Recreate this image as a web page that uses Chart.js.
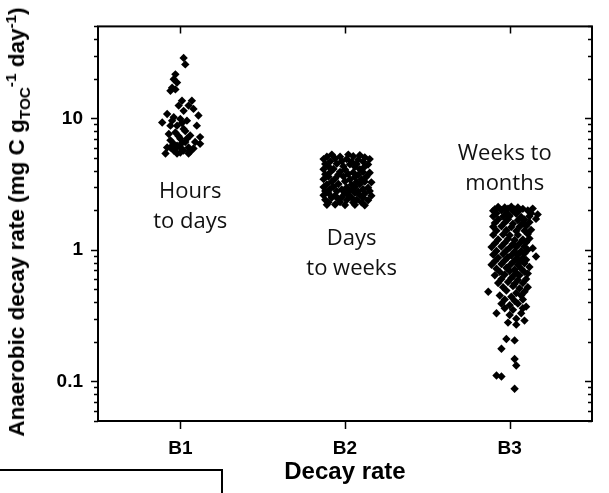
<!DOCTYPE html>
<html>
<head>
<meta charset="utf-8">
<script src="https://cdn.jsdelivr.net/npm/chart.js@4.4.1/dist/chart.umd.min.js"></script>
<style>
  body { margin: 0; background: #fff; }
  #wrap { position: relative; width: 609px; height: 493px; overflow: hidden; background: #fff; }
  #yTitle {
    position: absolute; left: 17px; top: 222px;
    transform: translate(-50%, -50%) rotate(-90deg);
    white-space: nowrap;
    font: bold 22.5px "Liberation Sans", Arial, sans-serif;
    color: #000;
  }
  #yTitle sub, #yTitle sup { font-size: 0.68em; line-height: 0; }
  #cornerBox {
    position: absolute; left: -2px; top: 469px; width: 223px; height: 40px;
    border-top: 2px solid #000; border-right: 2px solid #000;
  }
</style>
</head>
<body>
<div id="wrap">
  <canvas id="chart" width="609" height="493"></canvas>
  <div id="yTitle">Anaerobic decay rate (mg C g<sub>TOC</sub><sup>-1</sup> day<sup>-1</sup>)</div>
  <div id="cornerBox"></div>
</div>
<script>
// Categories and tick labels
const categories = ['B1', 'B2', 'B3'];
const yTickLabels = { 0.1: '0.1', 1: '1', 10: '10' };

// Jittered observations: [x position around the category, decay rate]
const b1Points = [
  [1.02, 28.8], [1.03, 25.7], [0.97, 21.6], [0.96, 19.8], [0.98, 18.7], [0.95, 17.1],
  [0.94, 16.2], [0.97, 16.6], [1.01, 13.6], [1.07, 13.6], [0.99, 12.5], [1.05, 12.5],
  [1.08, 11.8], [1.02, 11.4], [0.92, 10.8], [1.11, 10.5], [0.96, 10.2], [1.00, 9.9],
  [0.89, 9.3], [1.04, 9.6], [0.94, 8.8], [0.98, 8.8], [1.10, 8.8], [1.02, 8.3],
  [0.97, 7.8], [1.06, 7.4], [1.12, 7.2], [1.00, 7.0], [0.94, 6.8], [1.03, 6.6],
  [1.09, 6.6], [1.12, 6.4], [0.98, 6.2], [0.92, 6.0], [1.05, 6.0], [1.08, 5.9],
  [0.96, 5.7], [1.02, 5.7], [0.91, 5.4], [0.98, 5.4], [1.05, 5.4], [0.94, 6.0],
  [1.00, 6.0], [0.99, 7.3], [1.01, 6.5], [0.96, 6.4], [1.04, 7.0], [0.97, 5.9],
  [1.06, 5.6], [1.00, 5.5], [0.93, 7.6], [1.03, 8.0], [1.01, 9.2], [0.95, 9.6]
];

const b2Points = [
  [1.92, 5.3], [2.02, 5.3], [2.09, 5.25],
  [1.89, 5.1], [1.97, 5.1], [2.05, 5.15], [2.12, 5.05],
  [1.87, 4.9], [1.94, 4.95], [2.01, 4.9], [2.08, 4.85], [2.15, 4.9],
  [1.91, 4.7], [1.98, 4.72], [2.04, 4.68], [2.11, 4.7],
  [1.88, 4.5], [1.95, 4.52], [2.03, 4.48], [2.07, 4.5], [2.14, 4.46],
  [1.90, 4.3], [1.99, 4.32], [2.06, 4.28], [2.12, 4.3],
  [1.87, 4.1], [1.93, 4.12], [2.00, 4.08], [2.09, 4.1],
  [1.91, 3.9], [1.97, 3.92], [2.05, 3.88], [2.11, 3.9], [2.15, 3.86],
  [1.88, 3.75], [1.96, 3.74], [2.02, 3.77], [2.08, 3.72],
  [1.90, 3.6], [1.99, 3.62], [2.06, 3.58], [2.13, 3.6],
  [1.87, 3.45], [1.94, 3.47], [2.03, 3.43], [2.10, 3.45],
  [1.92, 3.3], [2.00, 3.32], [2.07, 3.28], [2.12, 3.3], [2.16, 3.26],
  [1.89, 3.15], [1.96, 3.17], [2.04, 3.13], [2.09, 3.15],
  [1.87, 3.0], [1.93, 3.02], [2.01, 2.98], [2.06, 3.0], [2.14, 2.97],
  [1.91, 2.9], [1.98, 2.88], [2.05, 2.91], [2.11, 2.89],
  [1.88, 2.8], [1.95, 2.79], [2.03, 2.81], [2.08, 2.78], [2.15, 2.8],
  [1.90, 2.7], [2.00, 2.69], [2.06, 2.71], [2.12, 2.68],
  [1.87, 2.6], [1.94, 2.59], [2.02, 2.61], [2.09, 2.6], [2.16, 2.58],
  [1.92, 2.5], [1.98, 2.51], [2.04, 2.49], [2.11, 2.5],
  [1.88, 2.4], [1.96, 2.41], [2.01, 2.39], [2.07, 2.4], [2.14, 2.38],
  [1.90, 2.3], [1.97, 2.31], [2.05, 2.29], [2.10, 2.3],
  [1.89, 2.2], [1.94, 2.21], [2.00, 2.19], [2.06, 2.2], [2.12, 2.18]
];

const b3Points = [
  [2.93, 2.12], [2.97, 2.1], [3.01, 2.13], [3.05, 2.1],
  [2.91, 2.04], [2.99, 2.06], [3.03, 2.03], [3.08, 2.05], [3.14, 2.06],
  [2.90, 1.98], [2.95, 2.0], [3.02, 1.97], [3.06, 2.0], [3.11, 1.99],
  [2.92, 1.9], [2.98, 1.91], [3.04, 1.88], [3.13, 1.9], [3.17, 1.86],
  [2.90, 1.8], [2.96, 1.79], [3.00, 1.81], [3.07, 1.78], [3.12, 1.8],
  [2.93, 1.7], [2.99, 1.71], [3.05, 1.68], [3.09, 1.7], [3.16, 1.72],
  [2.91, 1.6], [2.97, 1.61], [3.02, 1.58], [3.08, 1.6], [3.12, 1.62],
  [2.90, 1.5], [2.95, 1.51], [3.01, 1.49], [3.06, 1.5], [3.10, 1.52],
  [2.92, 1.4], [2.98, 1.41], [3.04, 1.39], [3.09, 1.4], [3.13, 1.42],
  [2.90, 1.3], [2.96, 1.31], [3.00, 1.29], [3.05, 1.3], [3.11, 1.32],
  [2.93, 1.2], [2.99, 1.21], [3.03, 1.19], [3.08, 1.2], [3.12, 1.22],
  [2.91, 1.12], [2.97, 1.13], [3.02, 1.11], [3.06, 1.12], [3.10, 1.14],
  [2.89, 1.05], [2.95, 1.06], [3.00, 1.04], [3.04, 1.05], [3.09, 1.06], [3.14, 1.03],
  [2.92, 0.98], [2.98, 0.99], [3.03, 0.97], [3.07, 0.98], [3.11, 1.0],
  [2.90, 0.92], [2.96, 0.93], [3.01, 0.91], [3.05, 0.92], [3.09, 0.94],
  [2.93, 0.87], [2.99, 0.88], [3.04, 0.86], [3.08, 0.87], [3.16, 0.89],
  [2.91, 0.82], [2.97, 0.83], [3.02, 0.81], [3.06, 0.82], [3.10, 0.84],
  [2.89, 0.77], [2.95, 0.78], [3.00, 0.76], [3.05, 0.77], [3.09, 0.79],
  [2.92, 0.72], [2.98, 0.73], [3.03, 0.71], [3.07, 0.72], [3.12, 0.74],
  [2.94, 0.68], [3.00, 0.69], [3.04, 0.67], [3.09, 0.68],
  [2.91, 0.64], [2.97, 0.65], [3.02, 0.63], [3.06, 0.64], [3.11, 0.66],
  [2.95, 0.6], [3.01, 0.61], [3.05, 0.59], [3.10, 0.6],
  [2.93, 0.56], [2.99, 0.57], [3.03, 0.55], [3.08, 0.56],
  [2.96, 0.52], [3.02, 0.53], [3.06, 0.51], [3.11, 0.52],
  [2.87, 0.48], [2.98, 0.49], [3.04, 0.47], [3.09, 0.48],
  [2.94, 0.45], [3.01, 0.44], [3.07, 0.45],
  [2.97, 0.42], [3.03, 0.41], [3.08, 0.42],
  [2.95, 0.39], [3.00, 0.38], [3.05, 0.39], [3.10, 0.37],
  [2.97, 0.36], [3.02, 0.35], [3.08, 0.36],
  [2.92, 0.33], [3.00, 0.32], [3.07, 0.33],
  [3.04, 0.30], [3.09, 0.29],
  [2.99, 0.28], [3.04, 0.27],
  [2.98, 0.21], [3.03, 0.205],
  [2.95, 0.177], [3.03, 0.148], [3.04, 0.132],
  [2.92, 0.111], [2.95, 0.109], [3.03, 0.088]
];

// Text labels inside the plot: anchor at first line baseline
const notes = [
  { lines: ['Hours', 'to days'], x: 1.06, y: 2.49 },
  { lines: ['Days', 'to weeks'], x: 2.04, y: 1.08 },
  { lines: ['Weeks to', 'months'], x: 2.97, y: 4.82 }
];

const yMin = 0.05, yMax = 50;
const yTicks = [];
[0.01, 0.1, 1, 10].forEach(d => {
  for (let m = 1; m <= 9; m++) {
    const v = +(d * m).toPrecision(3);
    if (v >= yMin && v <= yMax) yTicks.push(v);
  }
});
const isMajor = v => yTickLabels[v] !== undefined;

const toXY = pts => pts.map(p => ({ x: p[0], y: p[1] }));
const boldFont = size => ({ family: '"Liberation Sans", Arial, sans-serif', size: size, weight: 'bold' });

// frame, tick marks and in-plot text
const decorPlugin = {
  id: 'decor',
  afterDraw(chart) {
    const { ctx, chartArea: a, scales } = chart;
    ctx.save();
    ctx.strokeStyle = '#000';
    ctx.lineWidth = 1.5;
    ctx.beginPath();
    scales.y.ticks.forEach(t => {
      const py = Math.round(scales.y.getPixelForValue(t.value)) + 0.5;
      const len = isMajor(t.value) ? 7 : 4;
      ctx.moveTo(a.left, py); ctx.lineTo(a.left - len, py);
      ctx.moveTo(a.right, py); ctx.lineTo(a.right - len, py);
    });
    categories.forEach((c, i) => {
      const px = Math.round(scales.x.getPixelForValue(i + 1)) + 0.5;
      ctx.moveTo(px, a.bottom); ctx.lineTo(px, a.bottom + 8);
      ctx.moveTo(px, a.top); ctx.lineTo(px, a.top + 7);
    });
    ctx.stroke();
    ctx.lineWidth = 2;
    ctx.strokeRect(a.left, a.top, a.right - a.left, a.bottom - a.top);

    ctx.fillStyle = '#111';
    ctx.font = '22px "Open Sans", sans-serif';
    ctx.textAlign = 'center';
    ctx.textBaseline = 'alphabetic';
    notes.forEach(n => {
      const px = scales.x.getPixelForValue(n.x);
      const py = scales.y.getPixelForValue(n.y);
      n.lines.forEach((line, i) => ctx.fillText(line, px, py + i * 30));
    });
    ctx.restore();
  }
};

const pointStyle = {
  backgroundColor: '#000',
  borderColor: '#000',
  borderWidth: 0,
  pointStyle: 'rectRot',
  pointRadius: 4.2
};

new Chart(document.getElementById('chart').getContext('2d'), {
  type: 'scatter',
  data: {
    datasets: [
      { label: categories[0], data: toXY(b1Points), ...pointStyle },
      { label: categories[1], data: toXY(b2Points), ...pointStyle },
      { label: categories[2], data: toXY(b3Points), ...pointStyle }
    ]
  },
  options: {
    responsive: false,
    devicePixelRatio: 1,
    animation: false,
    layout: { padding: { top: 23, right: 17, left: 0, bottom: 0 } },
    plugins: { legend: { display: false }, tooltip: { enabled: false } },
    scales: {
      x: {
        type: 'linear',
        min: 0.5,
        max: 3.5,
        afterBuildTicks: scale => { scale.ticks = categories.map((c, i) => ({ value: i + 1 })); },
        afterFit: scale => { scale.height = 72; },
        ticks: {
          callback: v => categories[v - 1],
          color: '#000',
          font: boldFont(19),
          padding: 16,
          autoSkip: false,
          maxRotation: 0
        },
        grid: { display: false, drawTicks: false },
        border: { display: false },
        title: {
          display: true,
          text: 'Decay rate',
          color: '#000',
          font: boldFont(24),
          padding: { top: 7, bottom: 6 }
        }
      },
      y: {
        type: 'logarithmic',
        min: yMin,
        max: yMax,
        afterBuildTicks: scale => { scale.ticks = yTicks.map(v => ({ value: v })); },
        afterFit: scale => { scale.width = 98; },
        ticks: {
          callback: v => yTickLabels[v] || '',
          color: '#000',
          font: boldFont(19),
          padding: 15,
          autoSkip: false
        },
        grid: { display: false, drawTicks: false },
        border: { display: false }
      }
    }
  },
  plugins: [decorPlugin]
});
</script>
</body>
</html>
